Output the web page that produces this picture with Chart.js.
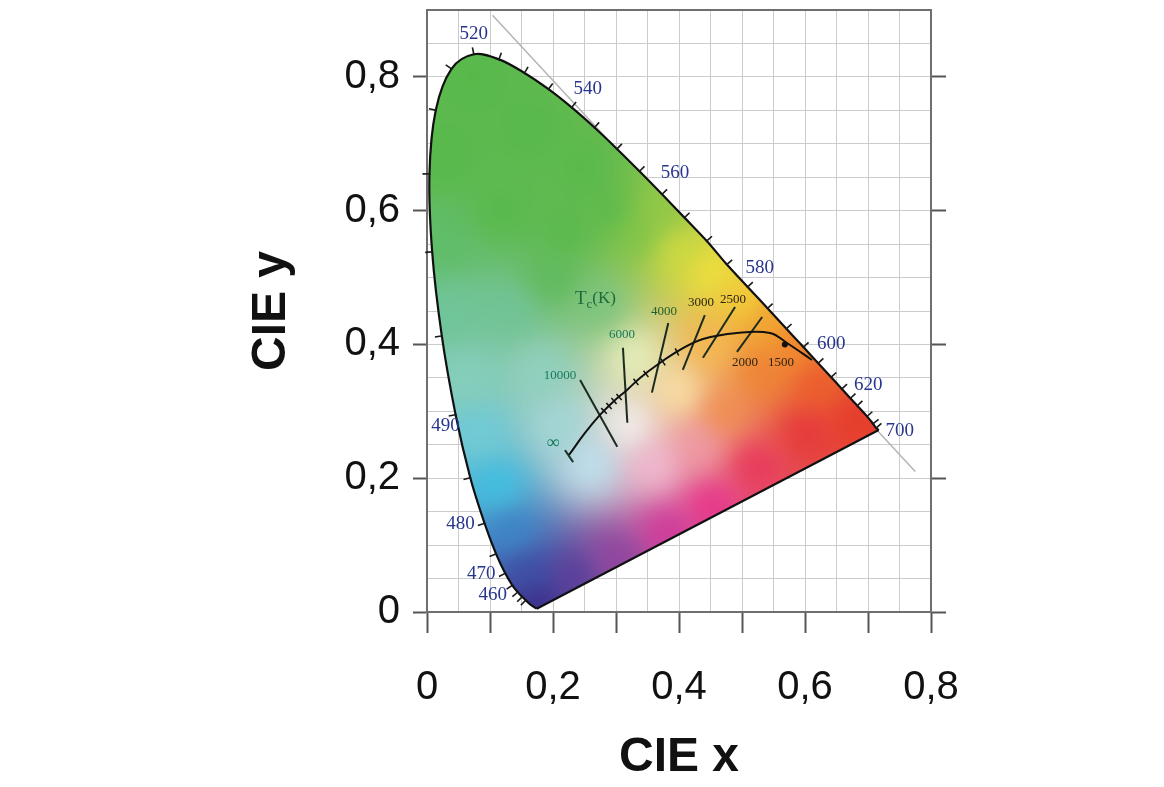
<!DOCTYPE html>
<html>
<head>
<meta charset="utf-8">
<script src="https://cdn.jsdelivr.net/npm/chart.js@4.4.1/dist/chart.umd.min.js"></script>
<style>
  html, body { margin: 0; padding: 0; background: #fff; }
</style>
</head>
<body>
<canvas id="cie" width="1164" height="787"></canvas>
<script>
// spectral locus, wavelength in nm
const wavelengths = [380, 440, 450, 455, 460, 465, 470, 475, 480, 485, 490, 495, 500, 505, 510, 515, 520, 525, 530, 535, 540, 545, 550, 555, 560, 565, 570, 575, 580, 585, 590, 595, 600, 605, 610, 615, 620, 630, 640, 650, 700];
const locusX = [0.1741, 0.1644, 0.1566, 0.1510, 0.1440, 0.1355, 0.1241, 0.1096, 0.0913, 0.0687, 0.0454, 0.0235, 0.0082, 0.0039, 0.0139, 0.0389, 0.0743, 0.1142, 0.1547, 0.1929, 0.2296, 0.2658, 0.3016, 0.3373, 0.3731, 0.4087, 0.4441, 0.4760, 0.5090, 0.5405, 0.5705, 0.5975, 0.6210, 0.6415, 0.6585, 0.6720, 0.6830, 0.6985, 0.7080, 0.7130, 0.7170];
const locusY = [0.0050, 0.0109, 0.0177, 0.0227, 0.0297, 0.0399, 0.0578, 0.0868, 0.1327, 0.2007, 0.2950, 0.4127, 0.5384, 0.6548, 0.7502, 0.8120, 0.8338, 0.8262, 0.8059, 0.7816, 0.7543, 0.7243, 0.6923, 0.6589, 0.6245, 0.5896, 0.5547, 0.5195, 0.4860, 0.4540, 0.4235, 0.3960, 0.3720, 0.3510, 0.3335, 0.3195, 0.3085, 0.2925, 0.2815, 0.2750, 0.2720];
const waveLabels = ['460', '470', '480', '490', '520', '540', '560', '580', '600', '620', '700'];

// Planckian locus, from infinity to the edge
const planckX = [0.2254, 0.2508, 0.2746, 0.2952, 0.3175, 0.3381, 0.3651, 0.4016, 0.4381, 0.4921, 0.5444, 0.5714, 0.6111];
const planckY = [0.2348, 0.2677, 0.2946, 0.3140, 0.3320, 0.3499, 0.3693, 0.3918, 0.4082, 0.4172, 0.4172, 0.4022, 0.3768];
const planckTickX = [0.2810, 0.2889, 0.2968, 0.3048, 0.3317, 0.3476, 0.3746, 0.3968];
const planckTickY = [0.3006, 0.3080, 0.3155, 0.3215, 0.3439, 0.3559, 0.3738, 0.3888];

// isotherm lines
const isoTopX = [0.243, 0.311, 0.383, 0.441, 0.489, 0.532];
const isoTopY = [0.347, 0.395, 0.432, 0.444, 0.456, 0.441];
const isoBotX = [0.302, 0.318, 0.357, 0.406, 0.438, 0.492];
const isoBotY = [0.247, 0.283, 0.328, 0.362, 0.380, 0.389];
const capX = [0.219, 0.232];
const capY = [0.242, 0.224];
const markX = [0.568];
const markY = [0.400];

// temperature labels
const tempText = ['\u221e', '10000', '6000', '4000', '3000', '2500', '2000', '1500'];
const tempX = [0.200, 0.211, 0.3095, 0.3762, 0.4349, 0.4857, 0.5048, 0.5619];
const tempY = [0.2527, 0.3529, 0.4142, 0.4486, 0.4621, 0.4665, 0.3723, 0.3723];
const tcX = 0.273, tcY = 0.468;

// x + y = 1 guide line
const guideX = [0.104, 0.775];
const guideY = [0.892, 0.210];

const xTicks = [0, 0.2, 0.4, 0.6, 0.8];
const yTicks = [0, 0.2, 0.4, 0.6, 0.8];

// ---- styles ----
const waveOffset = {
  '460': [-25, 3], '470': [-24, 1], '480': [-24, 1], '490': [-10, 11], '520': [0, -20],
  '540': [16, -18], '560': [13, -21], '580': [12, -19], '600': [13, -19], '620': [11, -21], '700': [21, 1]
};
const tempColor = ['#177a5c', '#177a5c', '#177a5c', '#24602f', '#2b2410', '#2b2410', '#2b2410', '#2b2410'];
// colour stops for the filled gamut (x, y, colour)
const G = '#58b94b';
const gamutStops = [
  [0.075, 0.80, G], [0.16, 0.72, G], [0.25, 0.66, G], [0.03, 0.68, G], [0.12, 0.60, G], [0.22, 0.57, G], [0.29, 0.60, G],
  [0.33, 0.57, '#7fc448'], [0.37, 0.60, '#92c846'], [0.40, 0.54, '#cfdb40'], [0.45, 0.51, '#f0e23c'],
  [0.50, 0.47, '#f4cf38'], [0.54, 0.43, '#f3a52e'], [0.58, 0.40, '#f2862c'], [0.53, 0.36, '#ef8132'],
  [0.62, 0.34, '#ec5c2a'], [0.68, 0.29, '#e63a2b'], [0.60, 0.27, '#e6353a'], [0.52, 0.22, '#e8355a'],
  [0.45, 0.16, '#e8338a'], [0.38, 0.12, '#d0389a'], [0.30, 0.08, '#90449e'], [0.23, 0.05, '#5b3d99'],
  [0.175, 0.015, '#3a2c8a'], [0.16, 0.06, '#3a4fa6'], [0.135, 0.12, '#3b85c8'], [0.11, 0.19, '#3fc0e2'],
  [0.08, 0.27, '#6fcbd8'], [0.06, 0.35, '#86cfbc'], [0.04, 0.45, '#6fc59a'], [0.03, 0.55, '#5fbd68'],
  [0.13, 0.45, '#70c398'], [0.18, 0.36, '#90d1c0'], [0.21, 0.28, '#a2d7d6'], [0.26, 0.22, '#bfe2ef'],
  [0.32, 0.28, '#f5f1ee'], [0.36, 0.22, '#f3b9d2'], [0.40, 0.33, '#fbe3a8'], [0.33, 0.38, '#e6f0bc'],
  [0.27, 0.46, '#7bc47f'], [0.20, 0.50, '#5db95a'], [0.45, 0.40, '#f7b850'], [0.47, 0.30, '#f18c4c'],
  [0.43, 0.25, '#f09aa8']
];

const pts = (xs, ys) => xs.map((v, i) => ({ x: v, y: ys[i] }));
const near = (v, arr) => arr.some(t => Math.abs(t - v) < 1e-6);
const onStep = (v, s) => Math.abs(v / s - Math.round(v / s)) < 1e-6;
const fmt = v => v === 0 ? '0' : v.toFixed(1).replace('.', ',');

let gamutCache = null;
function hexRgb(h) {
  return [parseInt(h.slice(1, 3), 16), parseInt(h.slice(3, 5), 16), parseInt(h.slice(5, 7), 16)];
}
function gamutImage(chart) {
  if (gamutCache) return gamutCache;
  const sx = chart.scales.x, sy = chart.scales.y;
  const w = chart.width, h = chart.height;
  const off = document.createElement('canvas');
  off.width = w; off.height = h;
  const g = off.getContext('2d');
  const img = g.createImageData(w, h);
  const st = gamutStops.map(s => [sx.getPixelForValue(s[0]), sy.getPixelForValue(s[1])].concat(hexRgb(s[2])));
  const px = locusX.map(v => sx.getPixelForValue(v));
  const py = locusY.map(v => sy.getPixelForValue(v));
  const x0 = Math.max(0, Math.floor(Math.min(...px)) - 4), x1 = Math.min(w - 1, Math.ceil(Math.max(...px)) + 4);
  const y0 = Math.max(0, Math.floor(Math.min(...py)) - 4), y1 = Math.min(h - 1, Math.ceil(Math.max(...py)) + 4);
  for (let j = y0; j <= y1; j++) {
    for (let i = x0; i <= x1; i++) {
      let sw = 0, r = 0, gg = 0, b = 0;
      for (const s of st) {
        const dx = i - s[0], dy = j - s[1];
        const d2 = dx * dx + dy * dy + 500;
        const k = Math.pow(d2, -1.6);
        sw += k; r += k * s[2]; gg += k * s[3]; b += k * s[4];
      }
      const o = (j * w + i) * 4;
      img.data[o] = r / sw; img.data[o + 1] = gg / sw; img.data[o + 2] = b / sw; img.data[o + 3] = 255;
    }
  }
  g.putImageData(img, 0, 0);
  gamutCache = off;
  return off;
}

// paint the gamut right after the guide line, so it hides the line inside the locus
const gamutFill = {
  id: 'gamutFill',
  afterDatasetDraw(chart, args) {
    if (chart.data.datasets[args.index].label !== 'guide') return;
    const { ctx } = chart;
    const idx = chart.data.datasets.findIndex(d => d.label === 'locus');
    const el = chart.getDatasetMeta(idx).dataset;
    ctx.save();
    ctx.beginPath();
    if (el && el.path && el.updateControlPoints) {
      el.updateControlPoints(chart.chartArea, 'x');
      el.path(ctx);
    } else {
      const sx = chart.scales.x, sy = chart.scales.y;
      locusX.forEach((v, i) => {
        const X = sx.getPixelForValue(v), Y = sy.getPixelForValue(locusY[i]);
        i ? ctx.lineTo(X, Y) : ctx.moveTo(X, Y);
      });
    }
    ctx.closePath();
    ctx.clip();
    ctx.drawImage(gamutImage(chart), 0, 0);
    ctx.restore();
  }
};

const annotations = {
  id: 'annotations',
  afterDatasetsDraw(chart) {
    const { ctx } = chart;
    const sx = chart.scales.x, sy = chart.scales.y;
    const P = (x, y) => [sx.getPixelForValue(x), sy.getPixelForValue(y)];
    const lp = locusX.map((v, i) => P(v, locusY[i]));
    ctx.save();
    // wavelength ticks, pointing outward
    ctx.strokeStyle = '#1a1a1a';
    ctx.lineWidth = 1.6;
    for (let i = 2; i < lp.length - 1; i++) {
      const dx = lp[i + 1][0] - lp[i - 1][0], dy = lp[i + 1][1] - lp[i - 1][1];
      const L = Math.hypot(dx, dy) || 1;
      const nx = dy / L, ny = -dx / L;
      ctx.beginPath();
      ctx.moveTo(lp[i][0] - nx, lp[i][1] - ny);
      ctx.lineTo(lp[i][0] + nx * 7, lp[i][1] + ny * 7);
      ctx.stroke();
    }
    // wavelength labels
    ctx.fillStyle = '#28358f';
    ctx.font = '19px "Liberation Serif", serif';
    ctx.textAlign = 'center';
    ctx.textBaseline = 'middle';
    waveLabels.forEach(t => {
      const i = wavelengths.indexOf(+t);
      const o = waveOffset[t];
      ctx.fillText(t, lp[i][0] + o[0], lp[i][1] + o[1]);
    });
    // small ticks on the Planckian locus
    const pp = planckX.map((v, i) => P(v, planckY[i]));
    ctx.strokeStyle = '#111';
    ctx.lineWidth = 1.5;
    planckTickX.forEach((v, k) => {
      const q = P(v, planckTickY[k]);
      let best = 0, bd = Infinity;
      for (let i = 0; i < pp.length - 1; i++) {
        const d = Math.hypot(pp[i][0] - q[0], pp[i][1] - q[1]);
        if (d < bd) { bd = d; best = i; }
      }
      const dx = pp[best + 1][0] - pp[best][0], dy = pp[best + 1][1] - pp[best][1];
      const L = Math.hypot(dx, dy) || 1;
      const nx = dy / L, ny = -dx / L;
      ctx.beginPath();
      ctx.moveTo(q[0] - nx * 4, q[1] - ny * 4);
      ctx.lineTo(q[0] + nx * 4, q[1] + ny * 4);
      ctx.stroke();
    });
    // temperature labels
    tempText.forEach((t, i) => {
      const q = P(tempX[i], tempY[i]);
      ctx.font = (i === 0 ? '18px' : '13px') + ' "Liberation Serif", serif';
      ctx.fillStyle = tempColor[i];
      ctx.fillText(t, q[0], q[1]);
    });
    // T_c(K)
    const q = P(tcX, tcY);
    ctx.fillStyle = '#1d6b3c';
    ctx.textAlign = 'left';
    ctx.font = '19px "Liberation Serif", serif';
    let xx = q[0] - 24;
    ctx.fillText('T', xx, q[1]);
    xx += ctx.measureText('T').width;
    ctx.font = '13px "Liberation Serif", serif';
    ctx.fillText('c', xx, q[1] + 6);
    xx += ctx.measureText('c').width;
    ctx.font = '17px "Liberation Serif", serif';
    ctx.fillText('(K)', xx, q[1]);
    ctx.restore();
  }
};

const lineSet = (label, data, color, width, order, extra) => Object.assign({
  label, data, showLine: true, borderColor: color, borderWidth: width,
  pointRadius: 0, pointHoverRadius: 0, fill: false, order
}, extra || {});

const last = locusX.length - 1;
const datasets = [
  lineSet('guide', pts(guideX, guideY), '#b4b4b4', 1.5, 20),
  lineSet('locus', pts(locusX, locusY), '#111', 2.2, 10, { tension: 0.35 }),
  lineSet('purple', pts([locusX[last], locusX[0]], [locusY[last], locusY[0]]), '#111', 2.2, 10),
  lineSet('planck', pts(planckX, planckY), '#111', 2, 5, { tension: 0.4 }),
  lineSet('cap', pts(capX, capY), '#1c3328', 2, 5)
];
isoTopX.forEach((v, i) => {
  datasets.push(lineSet('iso' + i, pts([v, isoBotX[i]], [isoTopY[i], isoBotY[i]]), '#1c2b20', 2, 6));
});
datasets.push({ label: 'mark', data: pts(markX, markY), pointRadius: 3, backgroundColor: '#111', borderWidth: 0, order: 1 });

const tickFont = { family: '"Liberation Sans", Arial, sans-serif', size: 40 };
const titleFont = { family: '"Liberation Sans", Arial, sans-serif', size: 48, weight: 'bold' };
const gridColor = '#cccccc';
const frame = { color: '#6f6f6f', width: 2 };
const noPad = s => { s.paddingTop = 0; s.paddingBottom = 0; };

new Chart(document.getElementById('cie'), {
  type: 'scatter',
  data: { datasets },
  options: {
    responsive: false,
    animation: false,
    events: [],
    layout: { padding: { left: 243, top: 0, right: 0, bottom: 0 } },
    plugins: { legend: { display: false }, tooltip: { enabled: false } },
    scales: {
      x: {
        type: 'linear', position: 'bottom', min: 0, max: 0.8,
        afterFit: s => { s.height = 175; },
        ticks: { stepSize: 0.05, autoSkip: false, maxRotation: 0, padding: 31, color: '#111', font: tickFont,
                 callback: v => near(v, xTicks) ? fmt(v) : '' },
        grid: { color: gridColor, lineWidth: 1, tickLength: 21, tickWidth: 2,
                tickColor: c => onStep(c.tick.value, 0.1) ? '#555' : 'rgba(0,0,0,0)' },
        border: frame,
        title: { display: true, text: 'CIE x', color: '#111', font: titleFont, padding: 0 }
      },
      x2: {
        type: 'linear', position: 'top', min: 0, max: 0.8,
        afterFit: s => { s.height = 10; },
        ticks: { display: false },
        grid: { display: false },
        border: frame
      },
      y: {
        type: 'linear', position: 'left', min: 0, max: 0.9,
        afterFit: s => { s.width = 184; noPad(s); },
        ticks: { stepSize: 0.05, autoSkip: false, padding: 13, color: '#111', font: tickFont,
                 callback: v => near(v, yTicks) ? fmt(v) : '' },
        grid: { color: gridColor, lineWidth: 1, tickLength: 14, tickWidth: 2,
                tickColor: c => onStep(c.tick.value, 0.2) ? '#555' : 'rgba(0,0,0,0)' },
        border: frame,
        title: { display: true, text: 'CIE y', color: '#111', font: titleFont, padding: 0 }
      },
      y2: {
        type: 'linear', position: 'right', min: 0, max: 0.9,
        afterFit: s => { s.width = 233; noPad(s); },
        ticks: { stepSize: 0.05, autoSkip: false, padding: 0, font: { size: 1 }, callback: () => '' },
        grid: { drawOnChartArea: false, tickLength: 15, tickWidth: 2,
                tickColor: c => onStep(c.tick.value, 0.2) ? '#555' : 'rgba(0,0,0,0)' },
        border: frame
      }
    }
  },
  plugins: [gamutFill, annotations]
});
</script>
</body>
</html>
